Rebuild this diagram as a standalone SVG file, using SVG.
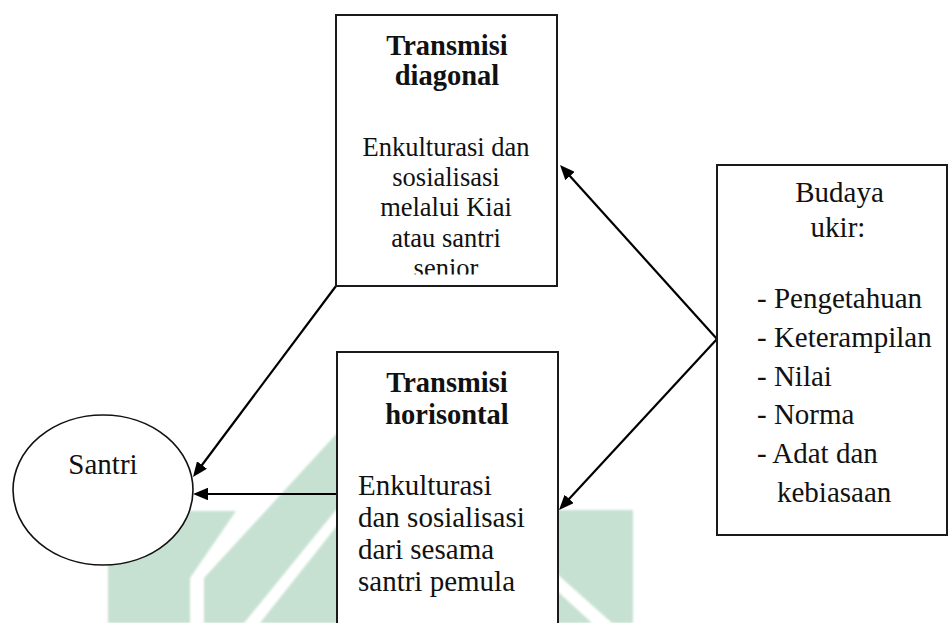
<svg xmlns="http://www.w3.org/2000/svg" width="949" height="623" viewBox="0 0 949 623">
  <style>
    .box { fill: #ffffff; stroke: #1a1a1a; stroke-width: 2; }
    .oval { fill: #ffffff; stroke: #111111; stroke-width: 1.6; }
    .t { font-family: "Liberation Serif", "Times New Roman", serif; fill: #111111; }
    .title { font-weight: bold; font-size: 28.5px; text-anchor: middle; }
    .body { font-size: 29px; }
    .small { font-size: 26.5px; text-anchor: middle; }
    .mid { text-anchor: middle; }
    .link { fill: none; stroke: #000000; stroke-width: 2.2; marker-end: url(#head); }
    .wm { fill: #c6e1d1; }
  </style>
  <defs>
    <marker id="head" viewBox="0 0 15 12.5" markerWidth="15" markerHeight="12.5" refX="5" refY="6.25" orient="auto" markerUnits="userSpaceOnUse">
      <path d="M0,0 L15,6.25 L0,12.5 z" fill="#000000"/>
    </marker>
    <clipPath id="diagClip">
      <rect x="337" y="16" width="220" height="258.5"/>
    </clipPath>
    <filter id="soft" x="-5%" y="-5%" width="110%" height="110%">
      <feGaussianBlur stdDeviation="1.2"/>
    </filter>
  </defs>

  <rect width="949" height="623" fill="#ffffff"/>

  <!-- faded background emblem -->
  <g id="emblem" filter="url(#soft)">
    <polygon class="wm" points="108,511 236,511 190,578 190,623 108,623"/>
    <polygon class="wm" points="340,430 340,505 244,623 204,623 204,578"/>
    <polygon class="wm" points="340,522 340,623 260,623"/>
    <polygon class="wm" points="556,510 633,510 633,623 612,623 556,573"/>
    <polygon class="wm" points="556,590 592,623 556,623"/>
  </g>

  <g id="connectors">
    <line class="link" x1="336" y1="286" x2="199" y2="469"/>
    <line class="link" x1="337" y1="494" x2="203" y2="494"/>
    <line class="link" x1="717" y1="339" x2="566.7" y2="172.4"/>
    <line class="link" x1="717" y1="339" x2="565.8" y2="502.6"/>
  </g>

  <g id="santri">
    <ellipse class="oval" cx="103" cy="490" rx="90" ry="75"/>
    <text class="t body mid" x="103" y="474">Santri</text>
  </g>

  <g id="transmisi-diagonal">
    <rect class="box" x="336" y="15" width="221" height="271"/>
    <text class="t title" x="447" y="55">Transmisi</text>
    <text class="t title" x="447" y="85">diagonal</text>
    <g clip-path="url(#diagClip)">
      <text class="t small" x="446" y="156">Enkulturasi dan</text>
      <text class="t small" x="446" y="186">sosialisasi</text>
      <text class="t small" x="446" y="216">melalui Kiai</text>
      <text class="t small" x="446" y="247">atau santri</text>
      <text class="t small" x="446" y="277">senior</text>
    </g>
  </g>

  <g id="transmisi-horisontal">
    <rect class="box" x="337" y="352" width="221" height="300"/>
    <text class="t title" x="447" y="392">Transmisi</text>
    <text class="t title" x="447" y="424">horisontal</text>
    <text class="t body" x="358" y="495">Enkulturasi</text>
    <text class="t body" x="358" y="527">dan sosialisasi</text>
    <text class="t body" x="358" y="559">dari sesama</text>
    <text class="t body" x="358" y="591">santri pemula</text>
  </g>

  <g id="budaya-ukir">
    <rect class="box" x="717" y="165" width="230" height="370"/>
    <text class="t body mid" x="839.5" y="202">Budaya</text>
    <text class="t body mid" x="838" y="237">ukir:</text>
    <text class="t body" x="757" y="308">- Pengetahuan</text>
    <text class="t body" x="757" y="347">- Keterampilan</text>
    <text class="t body" x="757" y="386">- Nilai</text>
    <text class="t body" x="757" y="424">- Norma</text>
    <text class="t body" x="757" y="463">- Adat dan</text>
    <text class="t body" x="777" y="502">kebiasaan</text>
  </g>
</svg>
